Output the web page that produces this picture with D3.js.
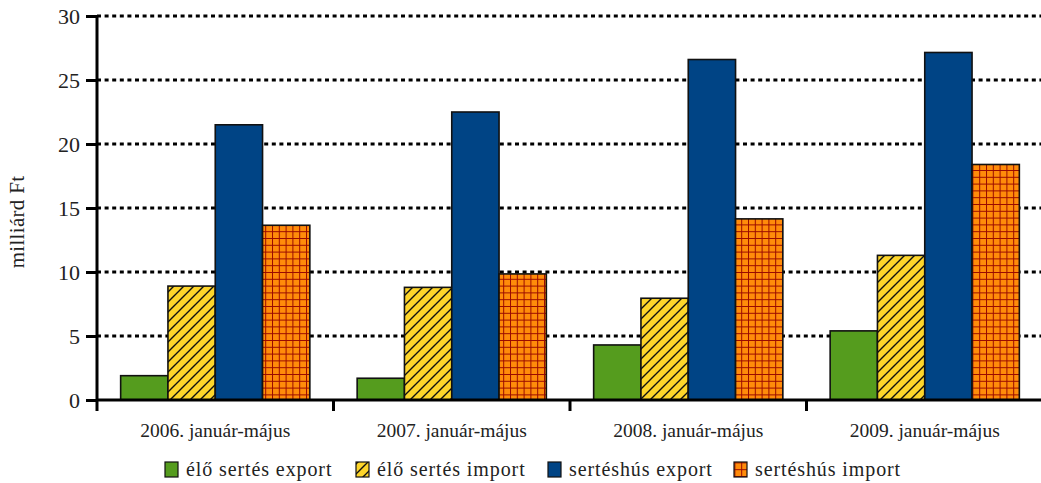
<!DOCTYPE html>
<html><head><meta charset="utf-8">
<script src="https://cdn.jsdelivr.net/npm/d3@7"></script>
<style>body{margin:0;background:#fff}svg{display:block}text{font-family:"Liberation Serif","DejaVu Serif",serif;fill:#222}</style>
</head><body><svg id="c" width="1041" height="483"></svg>
<script>
const categories = ["2006. január-május","2007. január-május","2008. január-május","2009. január-május"];
const seriesNames = ["élő sertés export","élő sertés import","sertéshús export","sertéshús import"];
const eloExport = [1.9, 1.7, 4.3, 5.4];
const eloImport = [8.9, 8.8, 7.95, 11.3];
const husExport = [21.5, 22.5, 26.6, 27.15];
const husImport = [13.65, 9.85, 14.15, 18.4];
const yTicks = [0,5,10,15,20,25,30];

const seriesValues = [eloExport, eloImport, husExport, husImport];
const svg = d3.select("#c");
const defs = svg.append("defs");
const hatch = defs.append("pattern").attr("id","hatch").attr("patternUnits","userSpaceOnUse")
  .attr("width",10).attr("height",10);
hatch.append("rect").attr("width",10).attr("height",10).attr("fill","#fdd52a");
hatch.append("path").attr("d","M-2,12 L12,-2 M-7,7 L7,-7 M3,17 L17,3").attr("stroke","#111").attr("stroke-width",1.4);
const grid = defs.append("pattern").attr("id","grid").attr("patternUnits","userSpaceOnUse")
  .attr("width",6.8).attr("height",6.8);
grid.append("rect").attr("width",6.8).attr("height",6.8).attr("fill","#ff8c0a");
grid.append("path").attr("d","M0,0 H6.8 M0,0 V6.8").attr("stroke","#9a0a00").attr("stroke-width",2);
const fills = ["#559c1e","url(#hatch)","#004485","url(#grid)"];

const mLeft = 97, mRight = 1043, mTop = 16, mBottom = 400;
const x0 = d3.scaleBand().domain(categories).range([mLeft,mRight]).paddingInner(0).paddingOuter(0);
const x1 = d3.scaleBand().domain(d3.range(4)).range([0,x0.bandwidth()]).paddingOuter(0.5);
const y = d3.scaleLinear().domain([0,30]).range([mBottom,mTop]);

// gridlines
svg.append("g").selectAll("line").data(yTicks.filter(d=>d>0)).join("line")
  .attr("x1",mLeft).attr("x2",1041).attr("y1",d=>y(d)).attr("y2",d=>y(d))
  .attr("stroke","#000").attr("stroke-width",2.8).attr("stroke-dasharray","4,3.6");

// bars
const g = svg.append("g");
categories.forEach((c,ci)=>{
  seriesValues.forEach((vals,si)=>{
    g.append("rect").attr("x",x0(c)+x1(si)).attr("y",y(vals[ci]))
      .attr("width",x1.bandwidth()).attr("height",y(0)-y(vals[ci]))
      .attr("fill",fills[si]).attr("stroke","#111").attr("stroke-width",1.6);
  });
});

// y axis
const ya = svg.append("g").attr("transform",`translate(${mLeft},0)`)
  .call(d3.axisLeft(y).tickValues(yTicks).tickSize(11).tickPadding(6));
ya.select(".domain").attr("stroke-width",3).attr("d",`M0,${mTop}V${mBottom}`);
ya.selectAll(".tick line").attr("stroke-width",3);
ya.selectAll("text").style("font-size","22px").style("font-family","Liberation Serif").attr("fill","#222");

// x axis
const xa = svg.append("g").attr("transform",`translate(0,${mBottom})`)
  .call(d3.axisBottom(x0).tickSize(0).tickPadding(23));
xa.select(".domain").attr("stroke-width",3).attr("d",`M${mLeft},0H1041`);
xa.selectAll("text").style("font-size","19.5px").style("font-family","Liberation Serif").attr("fill","#222");
const xt = svg.append("g");
xt.selectAll("line").data(d3.range(5)).join("line")
  .attr("x1",i=>mLeft+i*x0.step()).attr("x2",i=>mLeft+i*x0.step())
  .attr("y1",mBottom).attr("y2",mBottom+11).attr("stroke","#000").attr("stroke-width",3);

// y label
svg.append("text").attr("transform",`translate(24,222) rotate(-90)`).attr("text-anchor","middle")
  .style("font-size","21px").style("letter-spacing","0.3px").text("milliárd Ft");

// legend
const legX = [165, 356, 548, 734];
const lg = svg.append("g");
seriesNames.forEach((n,i)=>{
  lg.append("rect").attr("x",legX[i]).attr("y",462).attr("width",13).attr("height",15)
    .attr("fill",fills[i]).attr("stroke","#111").attr("stroke-width",1.2);
  lg.append("text").attr("x",legX[i]+21).attr("y",476).style("font-size","20px")
    .style("letter-spacing","0.9px").text(n);
});
</script></body></html>
